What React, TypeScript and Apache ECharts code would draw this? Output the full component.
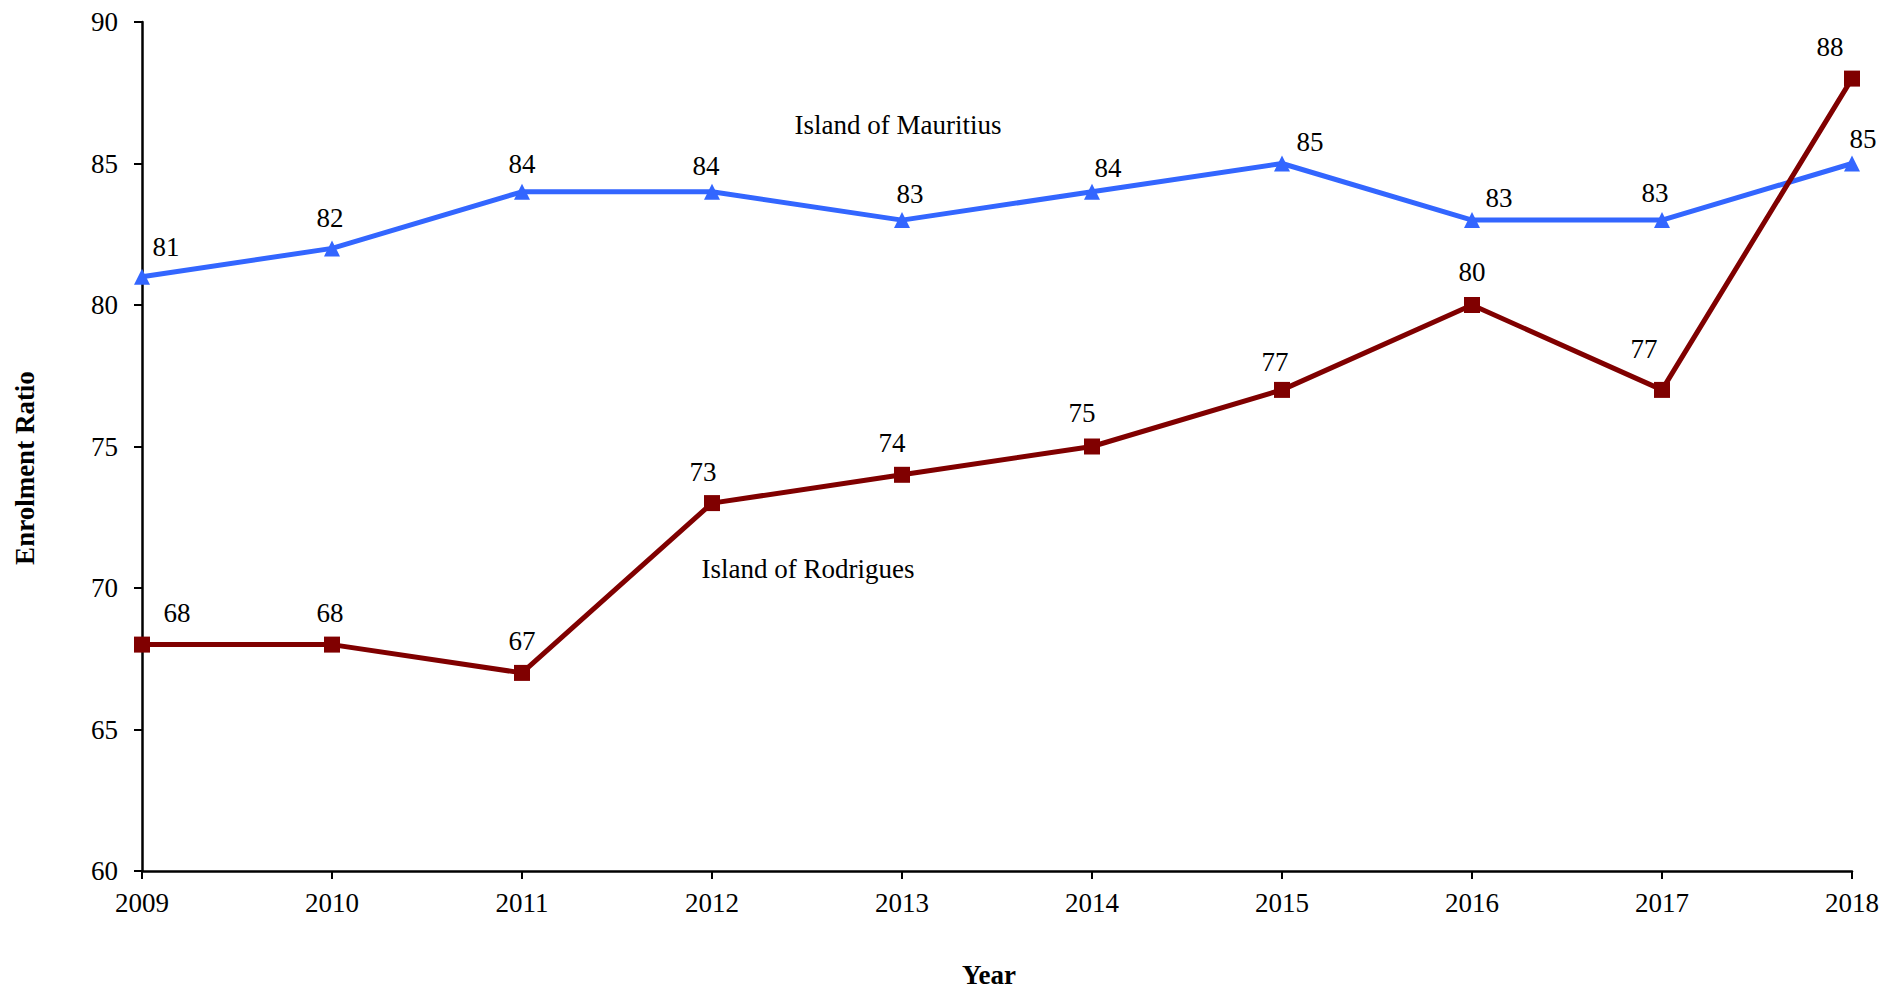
import React, { useEffect, useRef } from "react";
import * as echarts from "echarts";

const years = ["2009", "2010", "2011", "2012", "2013", "2014", "2015", "2016", "2017", "2018"];
const mauritius = [81, 82, 84, 84, 83, 84, 85, 83, 83, 85];
const rodrigues = [68, 68, 67, 73, 74, 75, 77, 80, 77, 88];

// label offsets (style only) relative to each marker centre
const mauritiusLabelOffsets = [
  [24, -30], [-2, -30], [0, -28], [-6, -26], [8, -26],
  [16, -24], [28, -22], [27, -22], [-7, -27], [11, -25],
];
const rodriguesLabelOffsets = [
  [35, -32], [-2, -32], [0, -32], [-9, -31], [-10, -32],
  [-10, -34], [-7, -28], [0, -33], [-18, -41], [-22, -32],
];

const FONT = '"Liberation Serif", "Times New Roman", serif';
const FS = 27;

export default function App() {
  const ref = useRef<HTMLDivElement>(null);
  useEffect(() => {
    if (!ref.current) return;
    const chart = echarts.init(ref.current, null, { renderer: "svg" });
    const mkData = (vals: number[], offs: number[][]) =>
      vals.map((v, i) => ({ value: v, label: { offset: offs[i] } }));
    chart.setOption({
      animation: false,
      backgroundColor: "#ffffff",
      textStyle: { fontFamily: FONT },
      grid: { left: 142, right: 31, top: 22, bottom: 122, containLabel: false, outerBoundsMode: "none" },
      xAxis: {
        type: "category",
        data: years,
        boundaryGap: false,
        axisLine: { lineStyle: { color: "#000", width: 2.5 } },
        axisTick: { show: true, inside: false, length: 8, lineStyle: { color: "#000", width: 2 } },
        axisLabel: { color: "#000", fontSize: FS, fontFamily: FONT, margin: 18 },
        splitLine: { show: false },
      },
      yAxis: {
        type: "value",
        min: 60,
        max: 90,
        interval: 5,
        axisLine: { show: true, lineStyle: { color: "#000", width: 2.5 } },
        axisTick: { show: true, inside: false, length: 8, lineStyle: { color: "#000", width: 2 } },
        axisLabel: { color: "#000", fontSize: FS, fontFamily: FONT, margin: 24 },
        splitLine: { show: false },
      },
      series: [
        {
          name: "Island of Mauritius",
          type: "line",
          data: mkData(mauritius, mauritiusLabelOffsets),
          symbol: "triangle",
          symbolSize: 16,
          showAllSymbol: true,
          lineStyle: { color: "#3366FF", width: 5 },
          itemStyle: { color: "#3366FF" },
          label: {
            show: true,
            position: "inside",
            color: "#000",
            fontSize: FS,
            fontFamily: FONT,
            align: "center",
            verticalAlign: "middle",
          },
          z: 2,
        },
        {
          name: "Island of Rodrigues",
          type: "line",
          data: mkData(rodrigues, rodriguesLabelOffsets),
          symbol: "rect",
          symbolSize: 16,
          showAllSymbol: true,
          lineStyle: { color: "#800000", width: 5 },
          itemStyle: { color: "#800000" },
          label: {
            show: true,
            position: "inside",
            color: "#000",
            fontSize: FS,
            fontFamily: FONT,
            align: "center",
            verticalAlign: "middle",
          },
          z: 3,
        },
      ],
      graphic: [
        {
          type: "text",
          x: 25,
          y: 468,
          rotation: Math.PI / 2,
          style: {
            text: "Enrolment Ratio",
            font: `bold ${FS}px ${FONT}`,
            fill: "#000",
            align: "center",
            verticalAlign: "middle",
          },
        },
        {
          type: "text",
          x: 989,
          y: 975,
          style: {
            text: "Year",
            font: `bold ${FS}px ${FONT}`,
            fill: "#000",
            align: "center",
            verticalAlign: "middle",
          },
        },
        {
          type: "text",
          x: 898,
          y: 125,
          style: {
            text: "Island of Mauritius",
            font: `${FS}px ${FONT}`,
            fill: "#000",
            align: "center",
            verticalAlign: "middle",
          },
        },
        {
          type: "text",
          x: 808,
          y: 569,
          style: {
            text: "Island of Rodrigues",
            font: `${FS}px ${FONT}`,
            fill: "#000",
            align: "center",
            verticalAlign: "middle",
          },
        },
      ],
    });
    return () => chart.dispose();
  }, []);
  return (
    <div
      ref={ref}
      style={{ position: "absolute", left: 0, top: 0, width: "1883px", height: "993px", background: "#fff" }}
    />
  );
}
